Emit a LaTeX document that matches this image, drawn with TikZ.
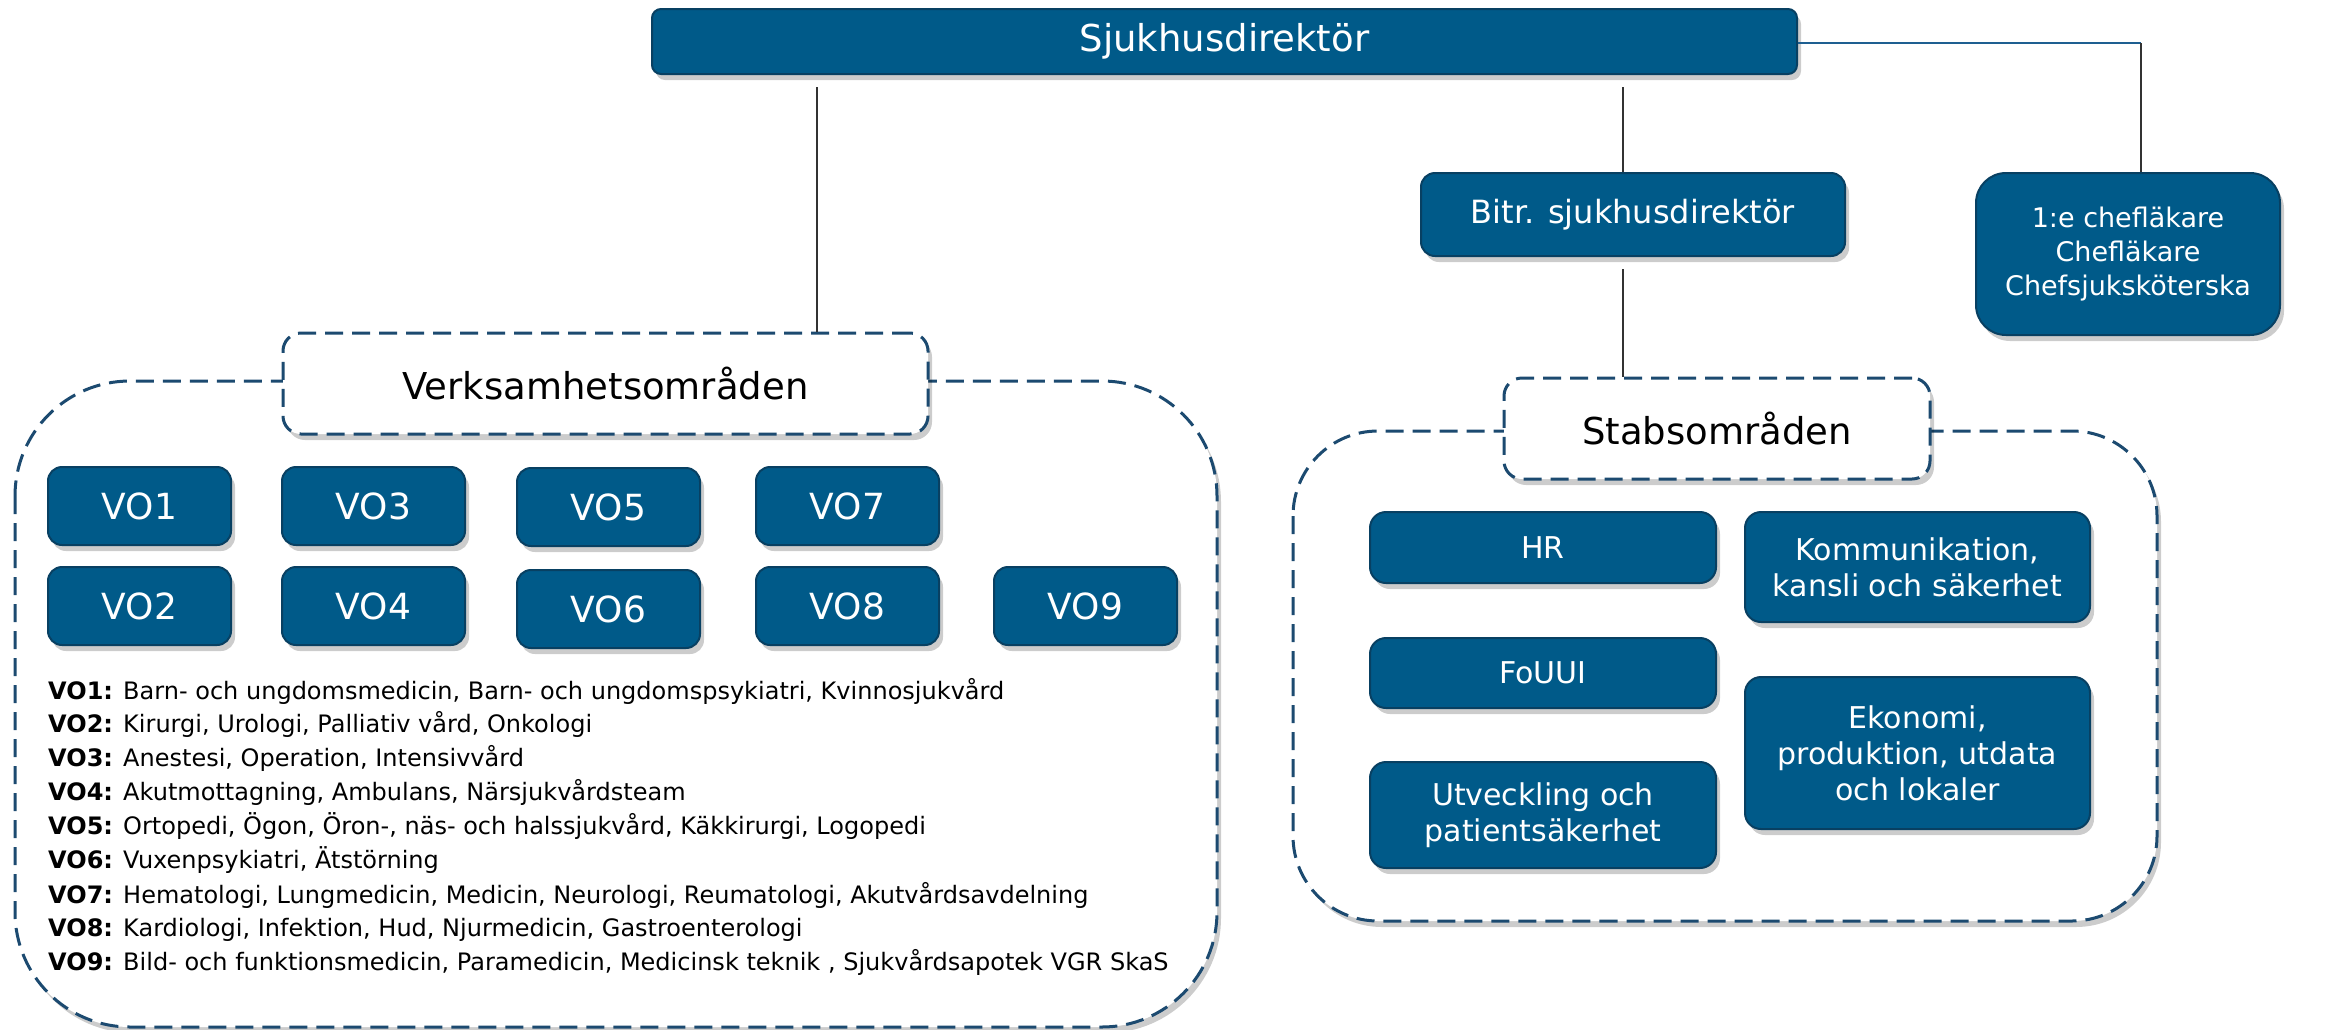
\documentclass[tikz,border=0pt]{standalone}
\usepackage{fontspec}
\setmainfont{DejaVu Sans}
\usetikzlibrary{shadows}
\definecolor{boxblue}{RGB}{0,90,137}
\definecolor{boxedge}{RGB}{8,64,98}
\definecolor{dashblue}{RGB}{28,74,112}
\definecolor{linegray}{RGB}{50,50,50}
\definecolor{lineblue}{RGB}{30,95,145}
\tikzset{
  shadowed/.style={drop shadow={shadow xshift=4pt, shadow yshift=-6pt, opacity=0.2, fill=black}},
  bluebox/.style={rectangle, rounded corners=12pt, fill=boxblue, draw=boxedge, line width=2pt,
    text=white, align=center, inner sep=0pt, shadowed},
  vobox/.style={bluebox, minimum width=183pt, minimum height=78pt, rounded corners=14pt,
    font=\fontsize{36}{40}\selectfont},
  stabbox/.style={bluebox, minimum width=346pt, rounded corners=16pt,
    font=\fontsize{30}{36}\selectfont},
  labelbox/.style={rectangle, rounded corners=18pt, fill=white, draw=dashblue, line width=3pt,
    dash pattern=on 18pt off 9pt, text=black, inner sep=0pt, shadowed,
    font=\fontsize{37}{42}\selectfont},
  container/.style={draw=dashblue, line width=3pt, dash pattern=on 18pt off 9pt, fill=white, shadowed},
  conn/.style={draw=linegray, line width=1.2pt},
  desc/.style={anchor=base west, inner sep=0pt, font=\fontsize{24}{28}\selectfont},
}
\begin{document}
\begin{tikzpicture}[x=1pt, y=-1pt]
\useasboundingbox (0,0) rectangle (2333,1029);

% containers
\path[container, rounded corners=115pt] (15,381) rectangle (1217,1027);
\path[container, rounded corners=85pt] (1293,431) rectangle (2157,921);

% top nodes
\node[bluebox, minimum width=1145pt, minimum height=65pt, rounded corners=9pt,
      font=\fontsize{37}{42}\selectfont] (sjuk) at (1224.5,41.5) {Sjukhusdirektör};
\node[bluebox, minimum width=424pt, minimum height=83pt, rounded corners=14pt,
      font=\fontsize{32}{38}\selectfont] (bitr) at (1633,214.5) {Bitr. sjukhusdirektör};
\node[bluebox, minimum width=304pt, minimum height=162pt, rounded corners=30pt,
      font=\fontsize{27}{34}\selectfont] (chef) at (2128,254) {1:e chefläkare\\Chefläkare\\Chefsjuksköterska};

% labels
\node[labelbox, minimum width=645pt, minimum height=101pt] (verks) at (605.5,383.5) {Verksamhetsområden};
\node[labelbox, minimum width=426pt, minimum height=101pt] (stabs) at (1717,428.5) {Stabsområden};

% VO boxes
\node[vobox] (vo1) at (139.5,506) {VO1};
\node[vobox] (vo3) at (373.5,506) {VO3};
\node[vobox] (vo5) at (608.5,507) {VO5};
\node[vobox] (vo7) at (847.5,506) {VO7};
\node[vobox] (vo2) at (139.5,606) {VO2};
\node[vobox] (vo4) at (373.5,606) {VO4};
\node[vobox] (vo6) at (608.5,609) {VO6};
\node[vobox] (vo8) at (847.5,606) {VO8};
\node[vobox] (vo9) at (1085.5,606) {VO9};

% descriptions
\node[desc] (d1) at (48,699) {\textbf{VO1:} Barn- och ungdomsmedicin, Barn- och ungdomspsykiatri, Kvinnosjukvård};
\node[desc] (d2) at (48,732) {\textbf{VO2:} Kirurgi, Urologi, Palliativ vård, Onkologi};
\node[desc] (d3) at (48,766) {\textbf{VO3:} Anestesi, Operation, Intensivvård};
\node[desc] (d4) at (48,800) {\textbf{VO4:} Akutmottagning, Ambulans, Närsjukvårdsteam};
\node[desc] (d5) at (48,834) {\textbf{VO5:} Ortopedi, Ögon, Öron-, näs- och halssjukvård, Käkkirurgi, Logopedi};
\node[desc] (d6) at (48,868) {\textbf{VO6:} Vuxenpsykiatri, Ätstörning};
\node[desc] (d7) at (48,903) {\textbf{VO7:} Hematologi, Lungmedicin, Medicin, Neurologi, Reumatologi, Akutvårdsavdelning};
\node[desc] (d8) at (48,936) {\textbf{VO8:} Kardiologi, Infektion, Hud, Njurmedicin, Gastroenterologi};
\node[desc] (d9) at (48,970) {\textbf{VO9:} Bild- och funktionsmedicin, Paramedicin, Medicinsk teknik , Sjukvårdsapotek VGR SkaS};

% stab boxes
\node[stabbox, minimum height=71pt] (hr) at (1543,547.5) {HR};
\node[stabbox, minimum height=70pt] (fou) at (1543,673) {FoUUI};
\node[stabbox, minimum height=106pt] (utv) at (1543,815) {Utveckling och\\patientsäkerhet};
\node[stabbox, minimum width=345pt, minimum height=110pt] (kom) at (1917.5,567) {Kommunikation,\\kansli och säkerhet};
\node[stabbox, minimum width=345pt, minimum height=152pt] (eko) at (1917.5,753) {Ekonomi,\\produktion, utdata\\och lokaler};

% connectors
\coordinate (lx) at (817,0);
\coordinate (mx) at (1623,0);
\coordinate (rc) at (2141,43);
\draw[conn, shorten <=12pt] (sjuk.south -| lx) -- (verks.north -| lx);
\draw[conn, shorten <=12pt] (sjuk.south -| mx) -- (bitr.north -| mx);
\draw[conn, shorten <=12pt] (bitr.south -| mx) -- (stabs.north -| mx);
\draw[draw=lineblue, line width=1.5pt] (sjuk.east |- rc) -- (rc);
\draw[conn] (rc) -- (chef.north -| rc);
\end{tikzpicture}
\end{document}
